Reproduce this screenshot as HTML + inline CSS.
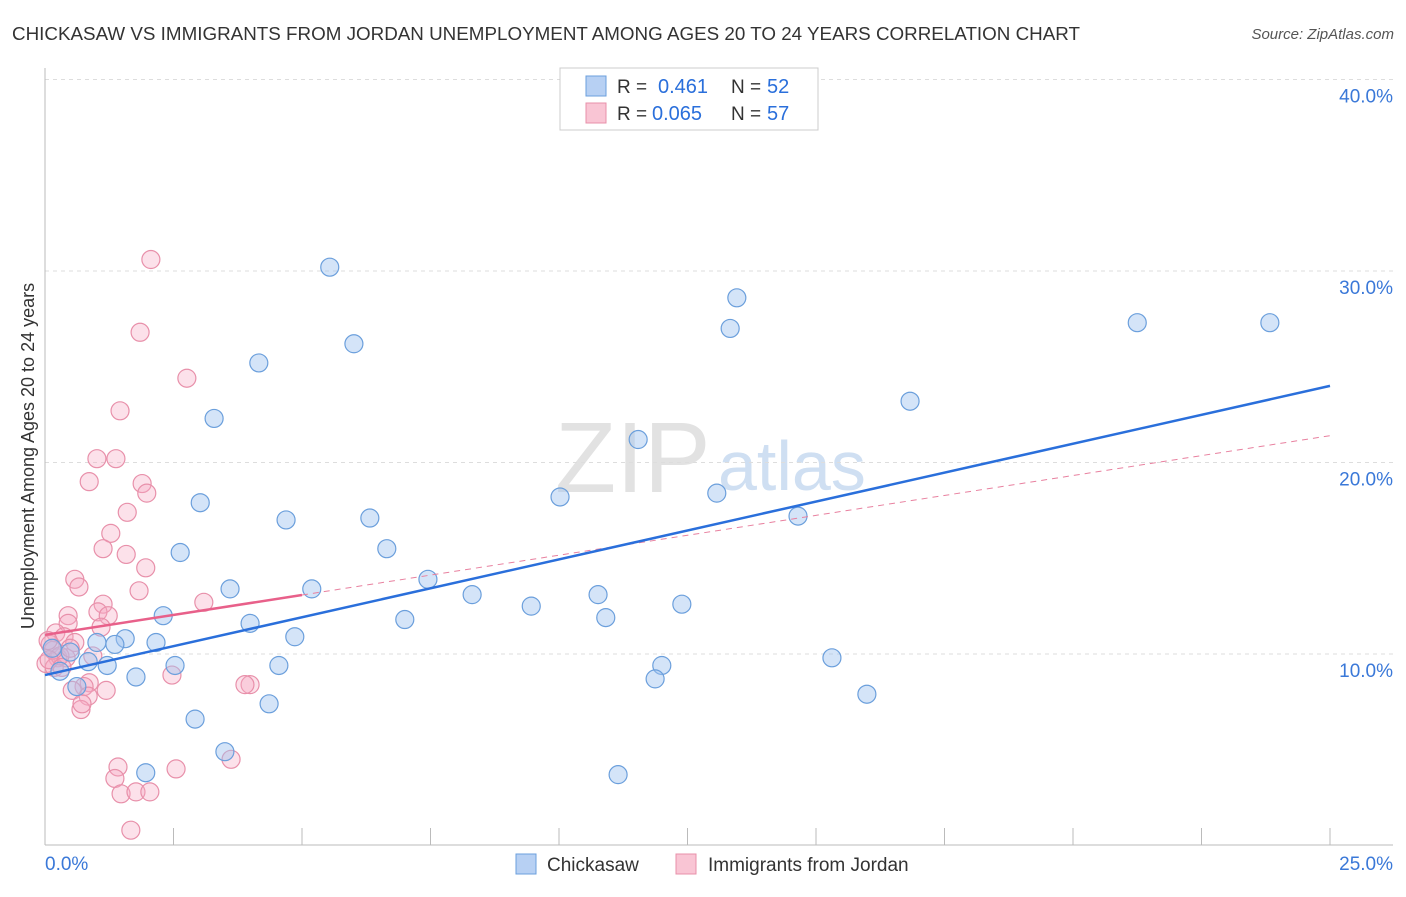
<!DOCTYPE html>
<html><head><meta charset="utf-8"><style>
body{margin:0;background:#fff;font-family:"Liberation Sans",sans-serif;}
svg text{font-family:"Liberation Sans",sans-serif;}
</style></head><body>
<svg id="chart" width="1406" height="892">
<text x="12" y="40" font-size="18" fill="#333" textLength="1068" lengthAdjust="spacingAndGlyphs">CHICKASAW VS IMMIGRANTS FROM JORDAN UNEMPLOYMENT AMONG AGES 20 TO 24 YEARS CORRELATION CHART</text>
<text x="1394" y="39" font-size="15" fill="#555" text-anchor="end" font-style="italic">Source: ZipAtlas.com</text>
<g>
<text x="555" y="492" font-size="100" fill="#e2e2e2" font-family="Liberation Serif,serif">ZIP</text>
<text x="718" y="490" font-size="70" fill="#cfdff2">atlas</text>
</g>
<g id="grid"></g>
<g id="axes"></g>
<g id="marks"></g>
<g>
<rect x="560" y="68" width="258" height="62" fill="#fff" stroke="#ccc"/>
<rect x="586" y="76" width="20" height="20" fill="#b7d0f3" stroke="#6b9fdc"/>
<rect x="586" y="103" width="20" height="20" fill="#f9c5d4" stroke="#e890aa"/>
<text x="617" y="93" font-size="19" fill="#333">R =</text>
<text x="658" y="93" font-size="20" fill="#2a6fdb">0.461</text>
<text x="731" y="93" font-size="19" fill="#333">N =</text>
<text x="767" y="93" font-size="20" fill="#2a6fdb">52</text>
<text x="617" y="120" font-size="19" fill="#333">R =</text>
<text x="652" y="120" font-size="20" fill="#2a6fdb">0.065</text>
<text x="731" y="120" font-size="19" fill="#333">N =</text>
<text x="767" y="120" font-size="20" fill="#2a6fdb">57</text>
</g>
<g>
<rect x="516" y="854" width="20" height="20" fill="#b7d0f3" stroke="#6b9fdc"/>
<text x="547" y="871" font-size="19" fill="#333">Chickasaw</text>
<rect x="676" y="854" width="20" height="20" fill="#f9c5d4" stroke="#e890aa"/>
<text x="708" y="871" font-size="19" fill="#333">Immigrants from Jordan</text>
</g>
<text transform="translate(34,456) rotate(-90)" font-size="18" fill="#333" text-anchor="middle">Unemployment Among Ages 20 to 24 years</text>
</svg>
<script>
const yTicks=[10,20,30,40];
const yTickLabels=["10.0%","20.0%","30.0%","40.0%"];
const xTicks=[0,2.5,5,7.5,10,12.5,15,17.5,20,22.5,25];
const blueX=[5.54,6.01,4.16,3.29,3.02,4.69,6.32,2.63,6.65,3.60,5.19,7.45,2.30,3.99,7.00,4.86,1.56,2.16,1.36,1.01,0.49,0.14,2.53,1.21,0.84,4.55,1.77,0.62,0.29,2.92,4.36,3.50,1.96,8.31,9.46,10.02,10.76,10.91,11.54,12.39,12.00,11.87,11.15,13.07,13.33,13.46,14.65,15.31,15.99,16.83,21.25,23.83];
const blueY=[30.2,26.2,25.2,22.3,17.9,17.0,17.1,15.3,15.5,13.4,13.4,13.9,12.0,11.6,11.8,10.9,10.8,10.6,10.5,10.6,10.1,10.3,9.4,9.4,9.6,9.4,8.8,8.3,9.1,6.6,7.4,4.9,3.8,13.1,12.5,18.2,13.1,11.9,21.2,12.6,9.4,8.7,3.7,18.4,27.0,28.6,17.2,9.8,7.9,23.2,27.3,27.3];
const pinkX=[2.06,1.85,2.76,1.46,1.38,1.01,0.86,1.89,1.98,1.60,1.28,1.13,1.58,1.96,0.58,0.66,1.83,3.09,1.13,1.03,1.23,0.45,0.45,1.09,0.21,0.37,0.58,0.10,0.25,0.41,0.02,0.18,0.93,0.29,2.47,0.86,1.19,0.76,0.53,0.84,0.70,0.72,3.99,3.89,3.62,2.55,1.42,1.36,1.48,1.77,2.04,1.67,0.16,0.08,0.33,0.06,0.49];
const pinkY=[30.6,26.8,24.4,22.7,20.2,20.2,19.0,18.9,18.4,17.4,16.3,15.5,15.2,14.5,13.9,13.5,13.3,12.7,12.6,12.2,12.0,12.0,11.6,11.4,11.1,10.9,10.6,10.5,9.8,9.8,9.5,9.3,9.9,9.9,8.9,8.5,8.1,8.3,8.1,7.8,7.1,7.4,8.4,8.4,4.5,4.0,4.1,3.5,2.7,2.8,2.8,0.8,10.2,9.7,9.3,10.7,10.3];
const blueTrend=[8.9,24.0];
const pinkTrend=[11.0,21.4];
const pinkSolidEnd=5.0;

const X0=45,X1=1330,Y0=845.5,PY=19.15;
const xs=v=>X0+(v/25)*(X1-X0);
const ys=v=>Y0-v*PY;
const NS="http://www.w3.org/2000/svg";
function mk(tag,attrs,parent){const e=document.createElementNS(NS,tag);for(const k in attrs)e.setAttribute(k,attrs[k]);parent.appendChild(e);return e;}
const grid=document.getElementById('grid'),axes=document.getElementById('axes'),marks=document.getElementById('marks');
yTicks.forEach((t,i)=>{
 const l=mk('line',{x1:45,x2:1393,y1:ys(t),y2:ys(t),stroke:'#ddd','stroke-dasharray':'4,4'},grid);
 
 
 const tx=mk('text',{x:1393,y:ys(t)+23,'font-size':19,fill:'#3a78d8','text-anchor':'end'},axes);
 tx.textContent=yTickLabels[i];
 
 
});
const ya=mk('line',{x1:45,x2:45,y1:68,y2:845,stroke:'#bbb'},axes);


const xa=mk('line',{x1:45,x2:1393,y1:845,y2:845,stroke:'#bbb'},axes);


xTicks.forEach(t=>{
 const l=mk('line',{x1:xs(t),x2:xs(t),y1:828,y2:845,stroke:'#bbb'},axes);
 
 
});
const xl0=mk('text',{x:45,y:870,'font-size':19,fill:'#3a78d8'},axes);xl0.textContent='0.0%';


const xl1=mk('text',{x:1393,y:870,'font-size':19,fill:'#3a78d8','text-anchor':'end'},axes);xl1.textContent='25.0%';



pinkX.forEach((v,i)=>{
 const c=mk('circle',{cx:xs(v),cy:ys(pinkY[i]),r:9,fill:'rgba(245,170,195,0.35)',stroke:'#e890aa','stroke-width':1.2},marks);
 
 
});
blueX.forEach((v,i)=>{
 const c=mk('circle',{cx:xs(v),cy:ys(blueY[i]),r:9,fill:'rgba(160,195,240,0.45)',stroke:'#6b9fdc','stroke-width':1.2},marks);
 
 
});
const pt=x=>pinkTrend[0]+(pinkTrend[1]-pinkTrend[0])*x/25;
const pd=mk('line',{x1:xs(pinkSolidEnd),y1:ys(pt(pinkSolidEnd)),x2:xs(25),y2:ys(pinkTrend[1]),stroke:'#e8809f','stroke-width':1,'stroke-dasharray':'6,5'},marks);


const bl=mk('line',{x1:xs(0),y1:ys(blueTrend[0]),x2:xs(25),y2:ys(blueTrend[1]),stroke:'#2a6fdb','stroke-width':2.5},marks);


const pl=mk('line',{x1:xs(0),y1:ys(pinkTrend[0]),x2:xs(pinkSolidEnd),y2:ys(pt(pinkSolidEnd)),stroke:'#e8608a','stroke-width':2.5},marks);


</script>
</body></html>
